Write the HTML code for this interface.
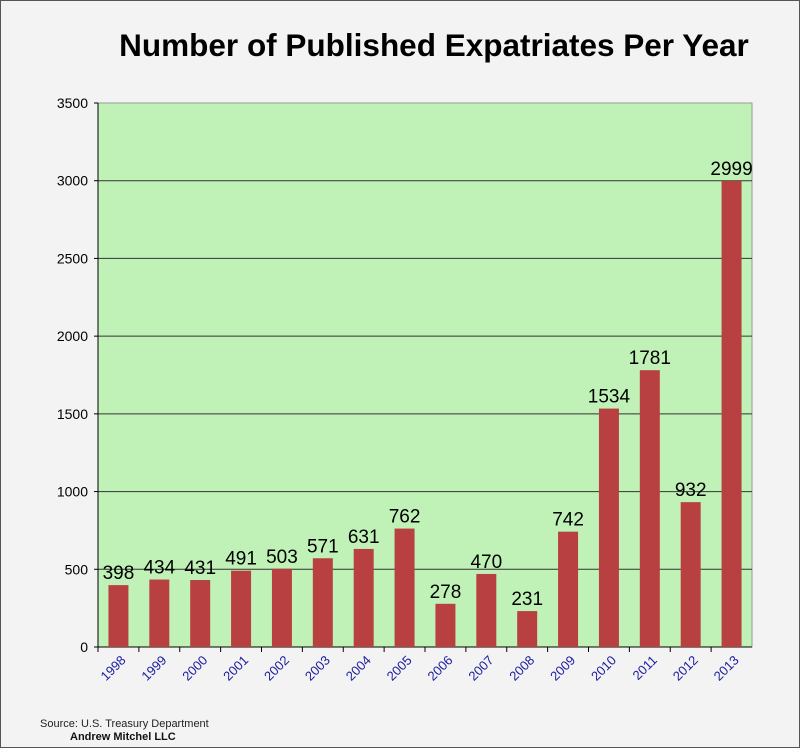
<!DOCTYPE html>
<html><head><meta charset="utf-8"><style>
html,body{margin:0;padding:0;background:#f3f3f3;}
svg{display:block;font-family:"Liberation Sans",Arial,sans-serif;}
</style></head><body>
<svg width="800" height="748" id="c">
<rect x="0.5" y="0.5" width="799" height="747" fill="#f3f3f3" stroke="#555"/>
<text x="434" y="56" font-size="31.5" font-weight="bold" text-anchor="middle" fill="#000">Number of Published Expatriates Per Year</text>
<text x="40" y="727" font-size="11" fill="#222">Source: U.S. Treasury Department</text>
<text x="70" y="740" font-size="11" font-weight="bold" fill="#111">Andrew Mitchel LLC</text>
<g id="plot"></g>
</svg>
<script>
const categories=["1998","1999","2000","2001","2002","2003","2004","2005","2006","2007","2008","2009","2010","2011","2012","2013"];
const values=[398,434,431,491,503,571,631,762,278,470,231,742,1534,1781,932,2999];
const yTicks=[0,500,1000,1500,2000,2500,3000,3500];
const L=98,R=752,T=103,B=647,YMAX=3500;
const ns="http://www.w3.org/2000/svg";
const g=document.getElementById('plot');
function y(v){return B-(v/YMAX)*(B-T);}
const slot=(R-L)/categories.length;
function xc(i){return L+slot*(i+0.5);}
function mk(t,a,p){const e=document.createElementNS(ns,t);for(const k in a)e.setAttribute(k,a[k]);(p||g).appendChild(e);return e;}
const bg=mk('rect',{x:L,y:T,width:R-L,height:B-T,fill:'#c0f2b8',stroke:'#999'});


yTicks.forEach(v=>{
  if(v>0&&v<YMAX){const l=mk('line',{x1:L,x2:R,y1:y(v),y2:y(v),stroke:'#333','stroke-width':1});
  
  }
  const t=mk('text',{x:L-10,y:y(v)+5,'font-size':14,'text-anchor':'end',fill:'#000'});
  t.textContent=v;
  
  
  const tk=mk('line',{x1:L-4,x2:L,y1:y(v),y2:y(v),stroke:'#000'});
  
  
});
const ax=mk('line',{x1:L,x2:L,y1:T,y2:B,stroke:'#000'});


const bx=mk('line',{x1:L,x2:R,y1:B,y2:B,stroke:'#000'});


categories.forEach((c,i)=>{
  const tk=mk('line',{x1:L+slot*i,x2:L+slot*i,y1:B,y2:B+5,stroke:'#000'});
  
  
  const v=values[i];
  const b=mk('rect',{x:xc(i)-10,y:y(v),width:20,height:B-y(v),fill:'#b94040'});
  
  
  const t=mk('text',{x:xc(i),y:y(v)-6,'font-size':19,'text-anchor':'middle',fill:'#000'});
  t.textContent=v;
  
  
  const xl=mk('text',{x:0,y:0,'font-size':13,'text-anchor':'end',fill:'#1a1aa0',transform:`translate(${xc(i)+8},${B+14}) rotate(-45)`});
  xl.textContent=c;
  
  
});
</script>
</body></html>
